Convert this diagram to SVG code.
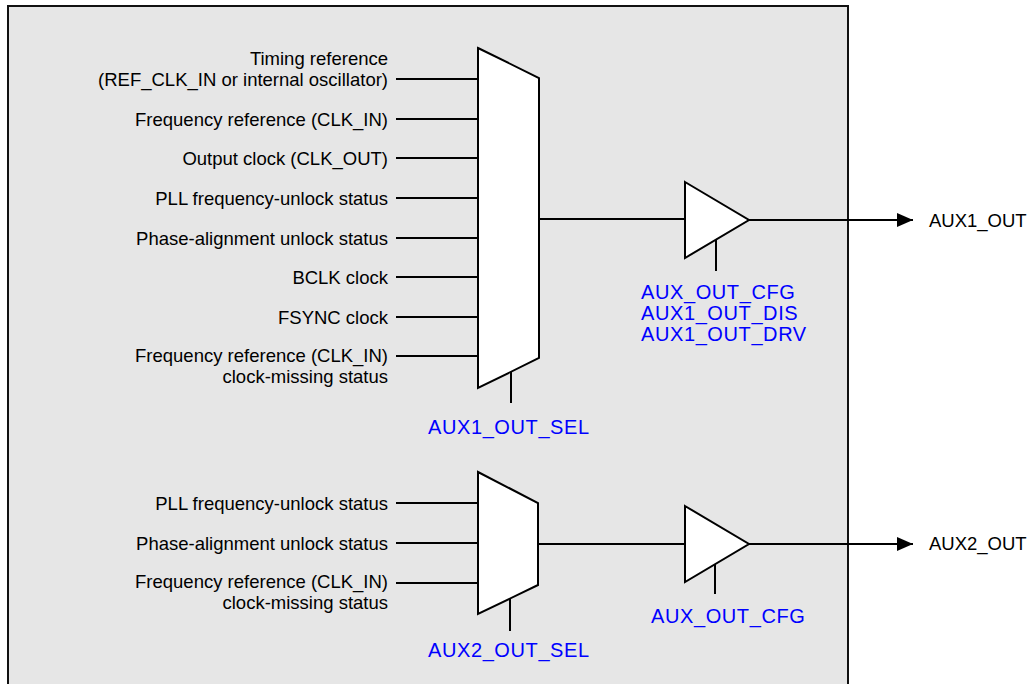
<svg xmlns="http://www.w3.org/2000/svg" width="1029" height="684" viewBox="0 0 1029 684">
<defs>
<style>
.ln{stroke:#000;stroke-width:2;fill:none}
.blk{stroke:#000;stroke-width:2;fill:#fff;stroke-linejoin:miter}
.lbl{font-family:"Liberation Sans",Arial,sans-serif;font-size:18.5px;fill:#000}
.end{text-anchor:end}
.reg{font-family:"Liberation Sans",Arial,sans-serif;font-size:20px;letter-spacing:0.6px;fill:#0000ff}
</style>
<marker id="arr" viewBox="0 0 16 14" refX="16" refY="7" markerWidth="16" markerHeight="14" markerUnits="userSpaceOnUse" orient="auto">
<path d="M0,0 L16,7 L0,14 Z" fill="#000"/>
</marker>
</defs>
<rect width="1029" height="684" fill="#fff"/>
<g id="device">
<rect x="8" y="6" width="840" height="700" fill="#e6e6e6" stroke="#111" stroke-width="2"/>
</g>
<g id="connectors">
<line class="ln" x1="396" y1="79" x2="478" y2="79"/>
<line class="ln" x1="396" y1="119" x2="478" y2="119"/>
<line class="ln" x1="396" y1="158" x2="478" y2="158"/>
<line class="ln" x1="396" y1="198" x2="478" y2="198"/>
<line class="ln" x1="396" y1="238" x2="478" y2="238"/>
<line class="ln" x1="396" y1="277" x2="478" y2="277"/>
<line class="ln" x1="396" y1="317" x2="478" y2="317"/>
<line class="ln" x1="396" y1="356" x2="478" y2="356"/>
<line class="ln" x1="539" y1="219" x2="685" y2="219"/>
<line class="ln" x1="511" y1="372" x2="511" y2="403"/>
<line class="ln" x1="716" y1="240" x2="716" y2="271"/>
<line class="ln" x1="749" y1="220" x2="913" y2="220" marker-end="url(#arr)"/>
<line class="ln" x1="396" y1="503" x2="478" y2="503"/>
<line class="ln" x1="396" y1="543" x2="478" y2="543"/>
<line class="ln" x1="396" y1="583" x2="478" y2="583"/>
<line class="ln" x1="538" y1="544" x2="685" y2="544"/>
<line class="ln" x1="510" y1="598" x2="510" y2="631"/>
<line class="ln" x1="715" y1="564" x2="715" y2="594"/>
<line class="ln" x1="749" y1="544" x2="913" y2="544" marker-end="url(#arr)"/>
</g>
<g id="mux1">
<polygon class="blk" points="478,48 539,78 539,358 478,388"/>
</g>
<g id="buf1">
<polygon class="blk" points="685,182 749,220 685,258"/>
</g>
<g id="mux2">
<polygon class="blk" points="478,472 538,503 538,585 478,614"/>
</g>
<g id="buf2">
<polygon class="blk" points="685,506 749,544 685,582"/>
</g>
<g id="inputs1">
<text class="lbl end" x="388" y="65">Timing reference</text>
<text class="lbl end" x="388" y="86">(REF_CLK_IN or internal oscillator)</text>
<text class="lbl end" x="388" y="126">Frequency reference (CLK_IN)</text>
<text class="lbl end" x="388" y="165">Output clock (CLK_OUT)</text>
<text class="lbl end" x="388" y="205">PLL frequency-unlock status</text>
<text class="lbl end" x="388" y="245">Phase-alignment unlock status</text>
<text class="lbl end" x="388" y="284">BCLK clock</text>
<text class="lbl end" x="388" y="324">FSYNC clock</text>
<text class="lbl end" x="388" y="362">Frequency reference (CLK_IN)</text>
<text class="lbl end" x="388" y="383">clock-missing status</text>
</g>
<g id="inputs2">
<text class="lbl end" x="388" y="510">PLL frequency-unlock status</text>
<text class="lbl end" x="388" y="550">Phase-alignment unlock status</text>
<text class="lbl end" x="388" y="588">Frequency reference (CLK_IN)</text>
<text class="lbl end" x="388" y="609">clock-missing status</text>
</g>
<g id="regs">
<text class="reg" x="641" y="299">AUX_OUT_CFG</text>
<text class="reg" x="641" y="320">AUX1_OUT_DIS</text>
<text class="reg" x="641" y="341">AUX1_OUT_DRV</text>
<text class="reg" x="428" y="434">AUX1_OUT_SEL</text>
<text class="reg" x="651" y="623">AUX_OUT_CFG</text>
<text class="reg" x="428" y="657">AUX2_OUT_SEL</text>
</g>
<g id="outputs">
<text class="lbl" x="929" y="227">AUX1_OUT</text>
<text class="lbl" x="929" y="550">AUX2_OUT</text>
</g>
</svg>
